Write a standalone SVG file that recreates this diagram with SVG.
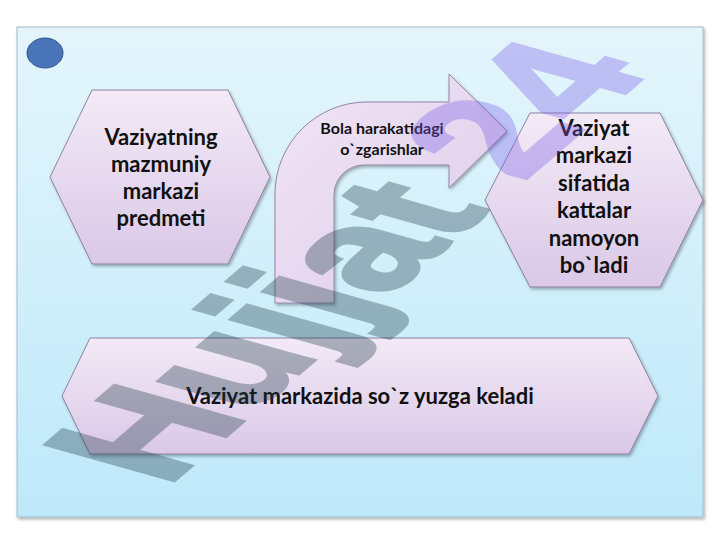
<svg xmlns="http://www.w3.org/2000/svg" width="720" height="540" viewBox="0 0 720 540">
  <defs>
    <linearGradient id="bg" x1="0" y1="0" x2="0" y2="1">
      <stop offset="0" stop-color="#e4f5fb"/>
      <stop offset="1" stop-color="#bee9fa"/>
    </linearGradient>
    <linearGradient id="shape" x1="0" y1="0" x2="0" y2="1">
      <stop offset="0" stop-color="#f3eaf6"/>
      <stop offset="1" stop-color="#dac8e7"/>
    </linearGradient>
    <linearGradient id="arrowfill" x1="0" y1="0" x2="1" y2="1">
      <stop offset="0" stop-color="#f1e6f5"/>
      <stop offset="1" stop-color="#ddcbe9"/>
    </linearGradient>
    <filter id="shadow" x="-10%" y="-10%" width="125%" height="125%">
      <feDropShadow dx="1.5" dy="2" stdDeviation="1.5" flood-color="#000" flood-opacity="0.3"/>
    </filter>
  </defs>
  <style>
    .shape { fill: url(#shape); stroke: #85779c; stroke-width: 0.9; filter: url(#shadow); }
    .label { font-family: Lato, "Open Sans", "Liberation Sans", sans-serif; font-weight: bold; fill: #111; text-anchor: middle; }
    .big { font-size: 22px; }
    .small { font-size: 16px; }
  </style>

  <rect width="720" height="540" fill="#ffffff"/>
  <rect id="panel" x="17" y="27" width="686" height="490" fill="url(#bg)" stroke="#a3bccb" stroke-width="1" filter="url(#shadow)"/>

  <ellipse id="circle" cx="45" cy="53" rx="18" ry="15" fill="#4a74b8" stroke="#2f5289" stroke-width="1"/>

  <g id="connectors">
    <path id="bent-arrow" d="M275,303 L275,194 A92,92 0 0 1 367,102 L449,102 L449,74 L507,131 L449,188 L449,165 L364,165 A30,30 0 0 0 334,195 L334,303 Z" fill="url(#arrowfill)" stroke="#8a7aa0" stroke-width="0.9" filter="url(#shadow)"/>
    <text class="label small" x="382" y="134">Bola harakatidagi</text>
    <text class="label small" x="382" y="155">o`zgarishlar</text>
  </g>

  <g id="node-left">
    <polygon class="shape" points="92,90 228,90 270,177 228,264 92,264 50,177"/>
    <text class="label big" x="161" y="145">Vaziyatning</text>
    <text class="label big" x="161" y="172">mazmuniy</text>
    <text class="label big" x="161" y="199">markazi</text>
    <text class="label big" x="161" y="226">predmeti</text>
  </g>

  <g id="node-right">
    <polygon class="shape" points="530,113 660,113 703,200 660,287 530,287 485,200"/>
    <text class="label big" x="594" y="136">Vaziyat</text>
    <text class="label big" x="594" y="163">markazi</text>
    <text class="label big" x="594" y="191">sifatida</text>
    <text class="label big" x="594" y="218">kattalar</text>
    <text class="label big" x="594" y="246">namoyon</text>
    <text class="label big" x="594" y="273">bo`ladi</text>
  </g>

  <g id="node-bottom">
    <polygon class="shape" points="90,338 629,338 658,396 629,454 90,454 62,396"/>
    <text class="label big" x="360" y="404">Vaziyat markazida so`z yuzga keladi</text>
  </g>

  <g id="watermark" opacity="0.34">
    <text x="0" y="0" transform="matrix(1.165,-1.0,1.85,0.52,166,487)" font-family="'Liberation Sans', Arial, sans-serif" font-weight="bold" font-size="100" fill="#1e3a48" stroke="#1e3a48" stroke-width="3" stroke-linejoin="miter">Hujjat <tspan fill="#7a5ce8" stroke="#7a5ce8">24</tspan></text>
  </g>
</svg>
